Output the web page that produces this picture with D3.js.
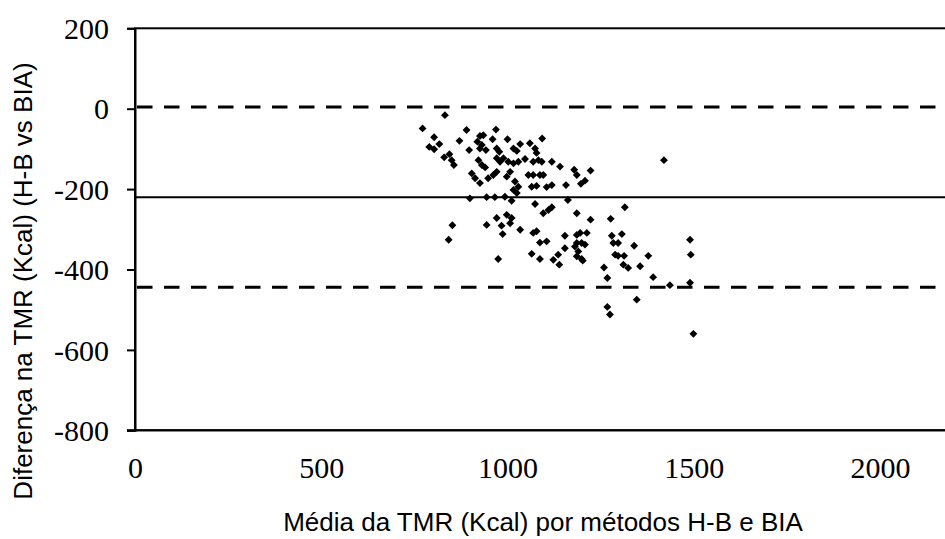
<!DOCTYPE html>
<html>
<head>
<meta charset="utf-8">
<script src="https://cdn.jsdelivr.net/npm/d3@7/dist/d3.min.js"></script>
<style>
  html, body { margin: 0; padding: 0; background: #fff; }
  svg { display: block; }
</style>
</head>
<body>
<svg id="chart" width="945" height="539"></svg>
<script>
// Bland-Altman plot: mean of the two TMR estimates vs their difference
const meanTMR = [
  832, 772, 890, 969, 803, 871, 926, 935, 919, 960,
  1000, 1060, 1093, 1034, 790, 803, 817, 897, 931, 942,
  926, 971, 978, 1016, 1025, 1074, 1078, 830, 844, 850,
  856, 922, 931, 940, 971, 980, 989, 1002, 1016, 1029,
  1047, 1069, 1083, 1092, 1119, 904, 913, 926, 948, 962,
  971, 998, 1007, 1056, 1069, 1087, 1096, 1020, 1029, 1016,
  1025, 1065, 1078, 1105, 1119, 1141, 1179, 1186, 1223, 1157,
  1197, 1208, 1420, 899, 944, 966, 993, 1011, 1074, 1096,
  1110, 1119, 1162, 998, 971, 1011, 1186, 1223, 1277, 984,
  1007, 987, 944, 852, 842, 1034, 1069, 1078, 1087, 1105,
  1154, 1186, 1195, 1213, 1186, 1181, 1190, 1199, 1208, 1154,
  1280, 1284, 1289, 975, 1065, 1087, 1123, 1136, 1139, 1186,
  1199, 1202, 1259, 1268, 1268, 1275, 1315, 1307, 1297, 1340,
  1297, 1313, 1311, 1324, 1378, 1356, 1391, 1436, 1490, 1492,
  1490, 1347, 1499
];
const diffTMR = [
  -16, -49, -53, -52, -71, -80, -68, -66, -82, -76,
  -76, -86, -74, -88, -95, -101, -88, -103, -90, -103,
  -99, -99, -107, -99, -105, -99, -110, -121, -113, -128,
  -140, -128, -140, -146, -123, -132, -123, -132, -136, -132,
  -125, -132, -128, -132, -132, -161, -173, -185, -173, -165,
  -157, -169, -157, -165, -165, -165, -165, -181, -194, -202,
  -210, -194, -192, -195, -190, -144, -152, -165, -154, -190,
  -187, -179, -128, -223, -220, -220, -219, -229, -237, -260,
  -252, -245, -227, -264, -272, -272, -260, -276, -274, -291,
  -285, -312, -289, -290, -326, -301, -309, -305, -333, -330,
  -316, -314, -309, -309, -334, -343, -355, -334, -338, -347,
  -316, -334, -363, -374, -361, -374, -376, -363, -388, -367,
  -374, -378, -395, -421, -493, -512, -245, -312, -334, -341,
  -366, -366, -388, -396, -366, -392, -419, -439, -326, -363,
  -433, -475, -560
];

// Mean bias and 95% limits of agreement
const biasMean = -220;
const limitUpper = 4;
const limitLower = -444;

const xTicks = [0, 500, 1000, 1500, 2000];
const yTicks = [200, 0, -200, -400, -600, -800];

const xTitle = "Média da TMR (Kcal) por métodos H-B e BIA";
const yTitle = "Diferença na TMR (Kcal) (H-B vs BIA)";

const svg = d3.select("#chart");
const W = 945, H = 539;
svg.append("rect").attr("width", W).attr("height", H).attr("fill", "#fff");

const plotLeft = 135, plotRight = 954.5, plotTop = 28.3, plotBottom = 430.3;

const x = d3.scaleLinear().domain([0, 2200]).range([plotLeft, plotRight]);
const y = d3.scaleLinear().domain([-800, 200]).range([plotBottom, plotTop]);

const serif = "'Liberation Serif', 'Times New Roman', serif";
const sans = "'Liberation Sans', Arial, sans-serif";
// plain hyphen for negative numbers
const numFmt = d => String(d);

// plot frame (right side falls outside the viewport)
svg.append("rect")
  .attr("x", x(0)).attr("y", y(200))
  .attr("width", x(2200) - x(0)).attr("height", y(-800) - y(200))
  .attr("fill", "none").attr("stroke", "#000").attr("stroke-width", 2);

// y axis
const yAxis = d3.axisLeft(y).tickValues(yTicks).tickSize(8).tickPadding(18)
  .tickFormat(numFmt);
const gy = svg.append("g").attr("transform", `translate(${x(0)},0)`).call(yAxis);
gy.select(".domain").attr("stroke", "#000").attr("stroke-width", 2);
gy.selectAll(".tick line").attr("stroke", "#000").attr("stroke-width", 2);
gy.selectAll(".tick text")
  .attr("font-family", serif).attr("font-size", 30).attr("fill", "#000")
  .attr("dy", "0.34em");

// x axis (labels only, no tick marks)
const xAxis = d3.axisBottom(x).tickValues(xTicks).tickSize(0).tickPadding(0)
  .tickFormat(numFmt);
const gx = svg.append("g").attr("transform", `translate(0,${y(-800)})`).call(xAxis);
gx.select(".domain").attr("stroke", "#000").attr("stroke-width", 2)
  .attr("d", `M${x(0) - 8},0H${x(2200)}`);
gx.selectAll(".tick text")
  .attr("font-family", serif).attr("font-size", 30).attr("fill", "#000")
  .attr("y", 48).attr("dy", 0);

// reference lines
const refLines = [
  { v: limitUpper, dash: "15.5,11.5", w: 3 },
  { v: biasMean, dash: null, w: 2 },
  { v: limitLower, dash: "15.5,11.5", w: 3 }
];
svg.append("g").selectAll("line").data(refLines).join("line")
  .attr("x1", d => d.dash ? x(0) + 2 : x(0))
  .attr("x2", x(2200))
  .attr("y1", d => y(d.v)).attr("y2", d => y(d.v))
  .attr("stroke", "#000")
  .attr("stroke-width", d => d.w)
  .attr("stroke-dasharray", d => d.dash);

// points: small black diamonds
const pts = meanTMR.map((m, i) => ({ m, d: diffTMR[i] }));
const diamond = d3.symbol().type(d3.symbolSquare).size(31);
svg.append("g").selectAll("path").data(pts).join("path")
  .attr("d", diamond)
  .attr("transform", p => `translate(${x(p.m)},${y(p.d)}) rotate(45)`)
  .attr("fill", "#000");

// axis titles
svg.append("text")
  .attr("x", 543).attr("y", 531)
  .attr("text-anchor", "middle")
  .attr("font-family", sans).attr("font-size", 26).attr("fill", "#000")
  .text(xTitle);

svg.append("text")
  .attr("transform", "translate(32,281) rotate(-90)")
  .attr("text-anchor", "middle")
  .attr("font-family", sans).attr("font-size", 26).attr("fill", "#000")
  .text(yTitle);
</script>
</body>
</html>
